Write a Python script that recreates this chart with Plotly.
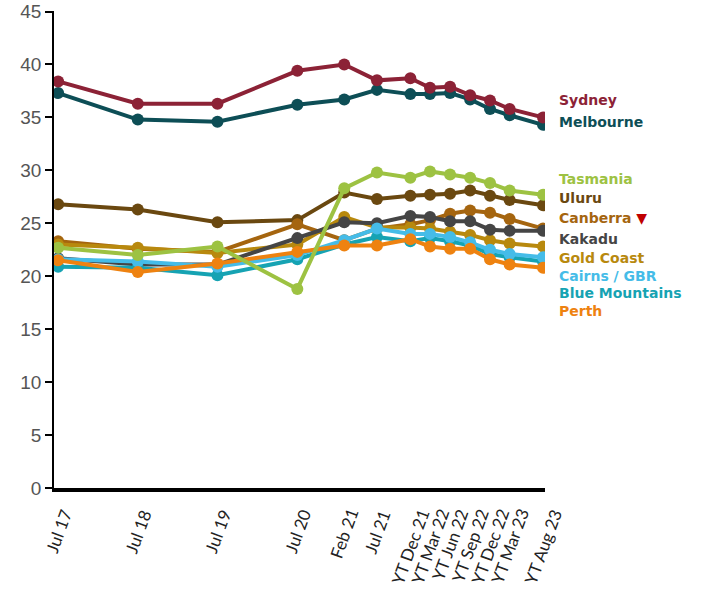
import plotly.graph_objects as go

# Survey periods (plotted on a true time axis)
periods = ["2017-07-01", "2018-07-01", "2019-07-01", "2020-07-01", "2021-02-01",
           "2021-07-01", "2021-12-01", "2022-03-01", "2022-06-01", "2022-09-01",
           "2022-12-01", "2023-03-01", "2023-08-01"]
period_labels = ["Jul 17", "Jul 18", "Jul 19", "Jul 20", "Feb 21", "Jul 21",
                 "YT Dec 21", "YT Mar 22", "YT Jun 22", "YT Sep 22",
                 "YT Dec 22", "YT Mar 23", "YT Aug 23"]

sydney = [38.4, 36.3, 36.3, 39.4, 40.0, 38.5, 38.7, 37.8, 37.9, 37.1, 36.6, 35.8, 35.0]
melbourne = [37.3, 34.8, 34.6, 36.2, 36.7, 37.6, 37.2, 37.2, 37.3, 36.7, 35.8, 35.2, 34.3]
tasmania = [22.7, 22.0, 22.8, 18.8, 28.3, 29.8, 29.3, 29.9, 29.6, 29.3, 28.8, 28.1, 27.7]
uluru = [26.8, 26.3, 25.1, 25.3, 27.9, 27.3, 27.6, 27.7, 27.8, 28.1, 27.6, 27.2, 26.7]
canberra = [23.3, 22.6, 22.3, 24.9, 23.4, 24.5, 24.9, 25.3, 25.9, 26.2, 26.0, 25.4, 24.5]
kakadu = [21.7, 21.1, 21.1, 23.6, 25.1, 25.0, 25.7, 25.6, 25.2, 25.2, 24.4, 24.3, 24.3]
gold_coast = [23.0, 22.7, 22.2, 23.0, 25.6, 24.6, 24.6, 24.5, 24.2, 23.9, 23.4, 23.1, 22.8]
cairns = [21.6, 21.4, 20.9, 22.0, 23.4, 24.5, 24.0, 24.0, 23.7, 23.2, 22.5, 22.1, 21.8]
blue_mountains = [20.9, 20.8, 20.1, 21.6, 23.0, 23.7, 23.3, 23.6, 23.3, 22.9, 22.1, 21.8, 21.4]
perth = [21.5, 20.4, 21.2, 22.3, 22.9, 22.9, 23.5, 22.8, 22.6, 22.6, 21.6, 21.1, 20.8]

y_ticks = [0, 5, 10, 15, 20, 25, 30, 35, 40, 45]

# name, values, colour, label y-position (data units)
series = [
    ("Melbourne", melbourne, "#0D4E56", 34.6),
    ("Sydney", sydney, "#8C2236", 36.6),
    ("Uluru", uluru, "#6A4810", 27.4),
    ("Canberra", canberra, "#A5650F", 25.5),
    ("Gold Coast", gold_coast, "#B8890E", 21.7),
    ("Kakadu", kakadu, "#454545", 23.5),
    ("Blue Mountains", blue_mountains, "#16A3B3", 18.4),
    ("Cairns / GBR", cairns, "#45BCE8", 20.05),
    ("Perth", perth, "#EE8210", 16.7),
    ("Tasmania", tasmania, "#9DC242", 29.2),
]

fig = go.Figure()
for name, vals, col, _ in series:
    fig.add_trace(go.Scatter(
        x=periods, y=vals, name=name, mode="lines+markers",
        line=dict(color=col, width=4),
        marker=dict(color=col, size=12),
        showlegend=False,
    ))

# series labels at the right-hand end
label_order = ["Sydney", "Melbourne", "Tasmania", "Uluru", "Canberra", "Kakadu",
               "Gold Coast", "Cairns / GBR", "Blue Mountains", "Perth"]
lookup = {s[0]: s for s in series}
for name in label_order:
    _, _, col, ly = lookup[name]
    text = name
    if name == "Canberra":
        text = name + " <span style='color:#C00000'>▼</span>"
    fig.add_annotation(
        x=1, xref="paper", y=ly, yref="y", xanchor="left", yanchor="middle",
        xshift=13, text=text, showarrow=False, borderpad=0,
        font=dict(family="DejaVu Sans", size=14, color=col, weight="bold"),
    )

# rotated period labels, centred under each period
for p, lab in zip(periods, period_labels):
    fig.add_annotation(
        x=p, xref="x", y=0, yref="paper", xanchor="center", yanchor="top",
        yshift=-17, text=lab, textangle=-70, showarrow=False, borderpad=0,
        font=dict(family="Lato", size=17, color="#222222"),
    )

fig.update_layout(
    width=703, height=598,
    margin=dict(l=54, r=158, t=11, b=110, autoexpand=False),
    paper_bgcolor="white", plot_bgcolor="white",
    xaxis=dict(
        type="date", range=["2017-06-12", "2023-08-10"],
        showticklabels=False, automargin=False,
        showgrid=False, zeroline=False,
        showline=True, linecolor="black", linewidth=3.5,
        ticks="",
    ),
    yaxis=dict(
        range=[0, 45.05], tickvals=y_ticks, automargin=False,
        tickfont=dict(family="Liberation Sans", size=19, color="#555555"),
        ticklabeloverflow="allow",
        showgrid=False, zeroline=False,
        showline=True, linecolor="black", linewidth=1.5,
        ticks="outside", ticklen=7, tickcolor="black", tickwidth=1.5,
    ),
)

fig.write_html("out.html")
